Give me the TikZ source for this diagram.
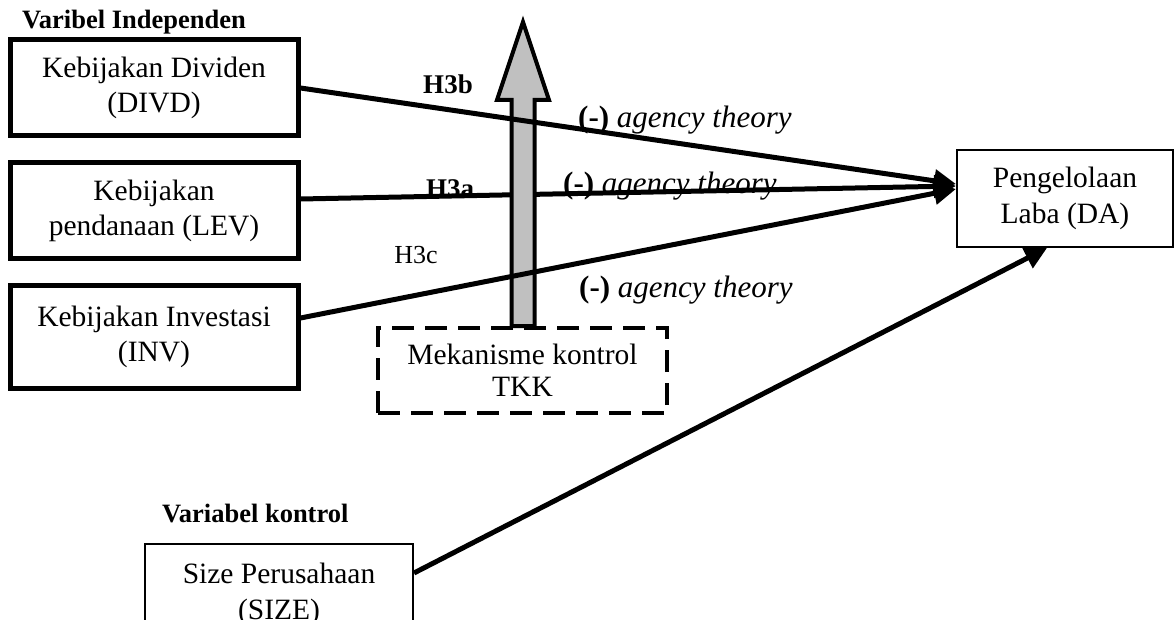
\documentclass[tikz,border=0pt]{standalone}
\usepackage{fontspec}
\setmainfont{Liberation Serif}
\usetikzlibrary{arrows.meta,calc}
\definecolor{arrowgray}{HTML}{C0C0C0}
\begin{document}
\begin{tikzpicture}[x=1pt,y=-1pt,
  varbox/.style={draw,line width=5pt,minimum width=288pt,align=center,
    font=\fontsize{29.5}{35}\selectfont,inner sep=0pt},
  thinbox/.style={draw,line width=2pt,align=center,
    font=\fontsize{29.5}{36}\selectfont,inner sep=0pt},
  ctrlbox/.style={draw,line width=4pt,dash pattern=on 22pt off 11pt,align=center,
    font=\fontsize{29.5}{32}\selectfont,inner sep=0pt},
  grouplabel/.style={font=\bfseries\fontsize{26.5}{30}\selectfont,anchor=base west,inner sep=0pt},
  hyp/.style={font=\bfseries\fontsize{27}{30}\selectfont,inner sep=0pt},
  hypplain/.style={font=\fontsize{26}{30}\selectfont,inner sep=0pt},
  effect/.style={font=\fontsize{31}{34}\selectfont,anchor=base west,inner sep=0pt},
  link/.style={line width=5pt,-{Triangle[length=22pt,width=22pt]}},
]
\useasboundingbox (0,0) rectangle (1175,620);
\clip (0,0) rectangle (1175,620);

% group headings
\node[grouplabel] (indep) at (22,29) {Varibel Independen};
\node[grouplabel] (ctrl) at (162,522) {Variabel kontrol};

% independent variables
\node[varbox,minimum height=96pt] (divd) at (154,88) {Kebijakan Dividen\\(DIVD)};
\node[varbox,minimum height=96pt] (lev) at (154,211) {Kebijakan\\pendanaan (LEV)};
\node[varbox,minimum height=102pt] (inv) at (154,337) {Kebijakan Investasi\\(INV)};

% moderating mechanism
\node[ctrlbox,minimum width=289pt,minimum height=85pt] (tkk) at (522.5,370.5) {Mekanisme kontrol\\TKK};

% dependent variable
\node[thinbox,minimum width=216pt,minimum height=97pt] (da) at (1065,198.5) {Pengelolaan\\Laba (DA)};

% control variable (box runs past the lower edge)
\node[thinbox,minimum width=268pt,minimum height=100pt] (size) at (279,594) {Size Perusahaan\\(SIZE)};

% hypothesis labels
\node[hyp] (h3b) at (448,84) {H3b};
\node[hyp] (h3a) at (450,189) {H3a};
\node[hypplain] (h3c) at (416,255) {H3c};

% expected effects
\node[effect] (e1) at (578,128) {\textbf{(-)} \textit{agency theory}};
\node[effect] (e2) at (563,194) {\textbf{(-)} \textit{agency theory}};
\node[effect] (e3) at (579,298) {\textbf{(-)} \textit{agency theory}};

% H3a path runs behind the moderating arrow
\draw[link] ($(lev.east)+(0,-12)$) -- ($(da.west)+(0,-12.5)$);

% moderating arrow rising from the control mechanism
\coordinate (tip) at (523,22);
\filldraw[fill=arrowgray,line width=4pt,line join=miter]
  ($(tkk.north)+(-11,0)$) -- (511.5,100) -- (497,100) -- (tip)
  -- (549,100) -- (534.5,100) -- ($(tkk.north)+(12,0)$) -- cycle;

% H3b and H3c paths cross over it
\draw[link] (divd.east) -- ($(da.west)+(0,-14.5)$);
\draw[link] ($(inv.east)+(0,-19)$) -- ($(da.west)+(0,-9.5)$);

% control variable path
\draw[link] ($(size.east)+(0,-21)$) -- ($(da.south)+(-18,0)$);
\end{tikzpicture}
\end{document}
